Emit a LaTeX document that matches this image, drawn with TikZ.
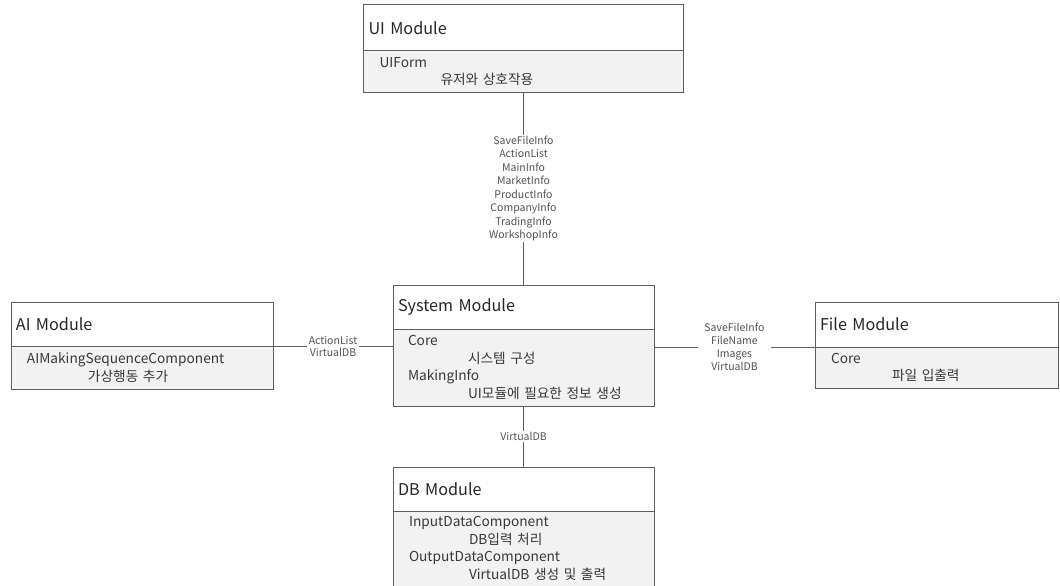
\documentclass[tikz,border=0pt]{standalone}
\usepackage{fontspec}
\setmainfont{Noto Sans CJK KR}
\usepackage{xcolor}
\usepackage{tikz}
\usetikzlibrary{positioning}

\definecolor{boxline}{HTML}{5E5E5E}
\definecolor{bodyfill}{HTML}{F2F2F2}

\begin{document}
\begin{tikzpicture}[
    x=1pt, y=1pt,
    head/.style={rectangle, draw=boxline, fill=white, line width=1pt, outer sep=0pt,
                 minimum height=44pt, inner xsep=0pt, inner ysep=0pt,
                 text width=#1, minimum width=#1, align=left,
                 font=\fontsize{16.2}{18}\selectfont, text=black!85},
    body/.style={rectangle, draw=boxline, fill=bodyfill, line width=1pt, outer sep=0pt,
                 inner xsep=0pt, inner ysep=0pt,
                 text width=#1, minimum width=#1, align=left,
                 font=\fontsize{13.7}{17.5}\selectfont, text=black!78},
    link/.style={draw=boxline, line width=1pt},
    lbl/.style={fill=white, inner xsep=2pt, inner ysep=1pt, align=center,
                font=\fontsize{10.5}{13.5}\selectfont, text=black!68},
]
\useasboundingbox (0,0) rectangle (1060,-586);

% System module (centre)
\node[head=261pt, anchor=north west] (sysHead) at (393,-285) {\hspace*{5pt}System Module};
\node[body=261pt, minimum height=77pt, below=0pt of sysHead] (sysBody)
    {\hspace*{15pt}Core\\\hspace*{75pt}시스템 구성\\\hspace*{15pt}MakingInfo\\\hspace*{75pt}UI모듈에 필요한 정보 생성};

% UI module (top)
\node[body=320pt, minimum height=41pt, above=193pt of sysHead] (uiBody)
    {\hspace*{16pt}UIForm\\\hspace*{77pt}유저와 상호작용};
\node[head=320pt, minimum height=46pt, above=0pt of uiBody] (uiHead) {\hspace*{5pt}UI Module};

% DB module (bottom)
\node[head=261pt, below=61pt of sysBody] (dbHead) {\hspace*{5pt}DB Module};
\node[body=261pt, minimum height=75pt, below=0pt of dbHead] (dbBody)
    {\hspace*{16pt}InputDataComponent\\\hspace*{76pt}DB입력 처리\\\hspace*{16pt}OutputDataComponent\\\hspace*{76pt}VirtualDB 생성 및 출력};

% AI module (left)
\node[head=262pt, anchor=north west] (aiHead) at (11,-302) {\hspace*{5pt}AI Module};
\node[body=262pt, minimum height=43pt, below=0pt of aiHead] (aiBody)
    {\hspace*{16pt}AIMakingSequenceComponent\\\hspace*{77pt}가상행동 추가};

% File module (right)
\node[head=243pt, minimum height=45pt, anchor=north west] (fileHead) at (815,-302) {\hspace*{5pt}File Module};
\node[body=243pt, minimum height=41pt, below=0pt of fileHead] (fileBody)
    {\hspace*{16pt}Core\\\hspace*{77pt}파일 입출력};

% Connectors
\draw[link] (uiBody) -- (sysHead)
    node[lbl, midway] {SaveFileInfo\\ActionList\\MainInfo\\MarketInfo\\ProductInfo\\CompanyInfo\\TradingInfo\\WorkshopInfo};
\draw[link] (aiBody.north east) -- (aiBody.north east -| sysBody.west)
    node[lbl, midway, font=\fontsize{10.5}{12}\selectfont] {ActionList\\VirtualDB};
\draw[link] (fileBody.north west -| sysBody.east) -- (fileBody.north west)
    node[lbl, midway, inner xsep=6pt, font=\fontsize{10.5}{13}\selectfont] {SaveFileInfo\\FileName\\Images\\VirtualDB};
\draw[link] (sysBody) -- (dbHead)
    node[lbl, midway] {VirtualDB};

\end{tikzpicture}
\end{document}
